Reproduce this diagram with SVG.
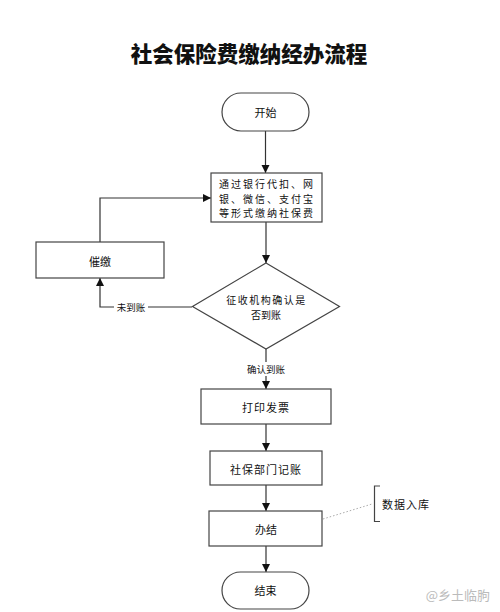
<svg xmlns="http://www.w3.org/2000/svg" width="500" height="612" viewBox="0 0 500 612">
<style>
.shape{fill:#fff;stroke:#444;stroke-width:1.2}
.t{font-family:"Noto Sans CJK SC","Noto Sans",sans-serif;font-size:11px;fill:#111;text-anchor:middle;dominant-baseline:central}
.t2{font-family:"Noto Sans CJK SC","Noto Sans",sans-serif;font-size:10px;fill:#111;text-anchor:middle;dominant-baseline:central}
.lbl{font-family:"Noto Sans CJK SC","Noto Sans",sans-serif;font-size:9.5px;fill:#111;text-anchor:middle;dominant-baseline:central}
.line{fill:none;stroke:#333;stroke-width:1.2}
</style>
<defs>
<marker id="arr" viewBox="0 0 10 10" refX="10" refY="5" markerWidth="8" markerHeight="9" markerUnits="userSpaceOnUse" orient="auto">
<path d="M0,0 L10,5 L0,10 z" fill="#111"/>
</marker>
</defs>
<rect width="500" height="612" fill="#fff"/>
<text x="249" y="52" font-family="'Noto Sans CJK SC',sans-serif" font-size="21.5" font-weight="900" text-anchor="middle" dominant-baseline="central" fill="#111">社会保险费缴纳经办流程</text>

<g id="connectors">
<path class="line" d="M265.5,131 V173" marker-end="url(#arr)"/>
<path class="line" d="M266,222 V263" marker-end="url(#arr)"/>
<path class="line" d="M192,307 H100 V278" marker-end="url(#arr)"/>
<path class="line" d="M100,242 V198 H211" marker-end="url(#arr)"/>
<path class="line" d="M266,349 V389" marker-end="url(#arr)"/>
<path class="line" d="M266,424 V451" marker-end="url(#arr)"/>
<path class="line" d="M266,485 V511" marker-end="url(#arr)"/>
<path class="line" d="M266,546 V572" marker-end="url(#arr)"/>
<path d="M323,519 L372,504" stroke="#aaa" stroke-width="1" stroke-dasharray="1.5,2" fill="none"/>
<rect x="114" y="300" width="34" height="14" fill="#fff"/>
<text class="lbl" x="131" y="307">未到账</text>
<rect x="246" y="362" width="40" height="14" fill="#fff"/>
<text class="lbl" x="266" y="369">确认到账</text>
</g>

<g id="start">
<rect class="shape" x="222" y="93" width="87" height="38" rx="19"/>
<text class="t" x="265.5" y="112">开始</text>
</g>
<g id="pay">
<rect class="shape" x="211" y="173" width="111" height="49"/>
<text class="t2" x="267" y="183.5" letter-spacing="2">通过银行代扣、网</text>
<text class="t2" x="267" y="198" letter-spacing="2">银、微信、支付宝</text>
<text class="t2" x="267" y="212.5" letter-spacing="2">等形式缴纳社保费</text>
</g>
<g id="urge">
<rect class="shape" x="36" y="242" width="128" height="36"/>
<text class="t" x="100" y="261">催缴</text>
</g>
<g id="check">
<polygon class="shape" points="266,263 339.5,306.5 266,349 192.5,306.5"/>
<text class="t2" x="266.5" y="299.5" letter-spacing="1.5">征收机构确认是</text>
<text class="t2" x="266" y="314">否到账</text>
</g>
<g id="invoice">
<rect class="shape" x="201" y="389" width="130" height="35"/>
<text class="t" x="266" y="407" letter-spacing="1">打印发票</text>
</g>
<g id="record">
<rect class="shape" x="210" y="451" width="112" height="34"/>
<text class="t" x="266" y="469" letter-spacing="1">社保部门记账</text>
</g>
<g id="done">
<rect class="shape" x="209" y="511" width="113" height="35"/>
<text class="t" x="266" y="529">办结</text>
</g>
<g id="end">
<rect class="shape" x="222" y="572" width="87" height="37" rx="18.5"/>
<text class="t" x="265.5" y="590">结束</text>
</g>
<g id="note">
<path d="M380,486 H374.5 V521.5 H380" fill="none" stroke="#444" stroke-width="1.2"/>
<text class="t" x="382" y="504" letter-spacing="1" style="text-anchor:start">数据入库</text>
</g>
<text x="490" y="594" font-family="'Noto Sans CJK SC',sans-serif" font-size="13" fill="#bbb" text-anchor="end" dominant-baseline="central">@乡土临朐</text>
</svg>
